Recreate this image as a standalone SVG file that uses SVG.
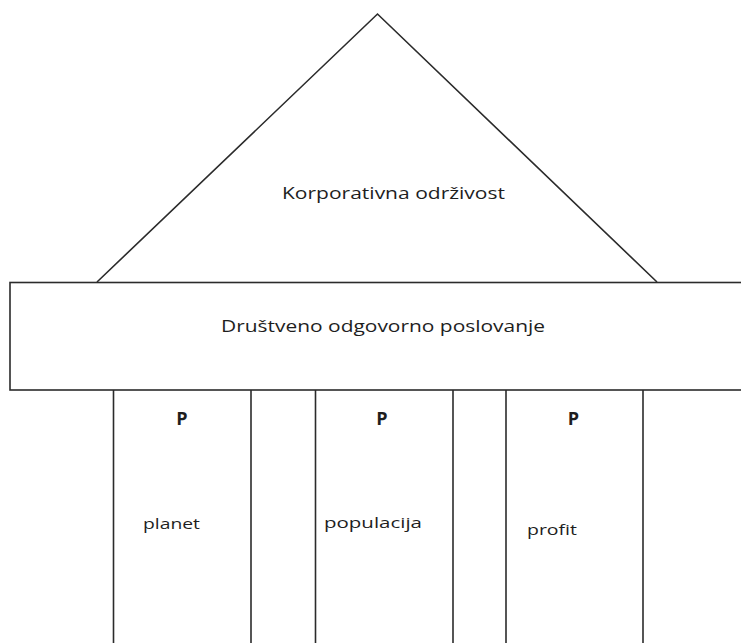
<svg xmlns="http://www.w3.org/2000/svg" width="741" height="643" viewBox="0 0 741 643">
<style>
.ln{fill:none;stroke:#2b2b2b;stroke-width:1.6}
.t{font-family:"Open Sans","Liberation Sans",sans-serif;font-size:17px;fill:#1e1e1e}
.s{font-family:"Open Sans","Liberation Sans",sans-serif;font-size:15px;fill:#1e1e1e}
.b{font-family:"Open Sans","Liberation Sans",sans-serif;font-size:18px;font-weight:bold;fill:#1e1e1e;text-anchor:middle}
</style>
<rect width="741" height="643" fill="#fff"/>
<g id="roof">
<polyline class="ln" points="97,282 377.5,14 657,282"/>
<text class="t" x="282" y="199" textLength="223" lengthAdjust="spacingAndGlyphs">Korporativna održivost</text>
</g>
<g id="beam">
<rect class="ln" x="10" y="282.5" width="740" height="107.5" stroke-width="2"/>
<text class="t" x="221" y="332" textLength="324" lengthAdjust="spacingAndGlyphs">Društveno odgovorno poslovanje</text>
</g>
<g id="pillar-planet">
<line class="ln" x1="113.5" y1="390" x2="113.5" y2="643" stroke-width="2"/>
<line class="ln" x1="251" y1="390" x2="251" y2="643" stroke-width="2"/>
<text class="b" x="182" y="425">P</text>
<text class="s" x="143" y="529" textLength="57" lengthAdjust="spacingAndGlyphs">planet</text>
</g>
<g id="pillar-populacija">
<line class="ln" x1="315.5" y1="390" x2="315.5" y2="643" stroke-width="2"/>
<line class="ln" x1="453" y1="390" x2="453" y2="643" stroke-width="2"/>
<text class="b" x="382" y="425">P</text>
<text class="s" x="324" y="528" textLength="98" lengthAdjust="spacingAndGlyphs">populacija</text>
</g>
<g id="pillar-profit">
<line class="ln" x1="506" y1="390" x2="506" y2="643" stroke-width="2"/>
<line class="ln" x1="643" y1="390" x2="643" y2="643" stroke-width="2"/>
<text class="b" x="573.5" y="425">P</text>
<text class="s" x="527" y="535" textLength="50" lengthAdjust="spacingAndGlyphs">profit</text>
</g>
<g id="connectors"></g>
</svg>
